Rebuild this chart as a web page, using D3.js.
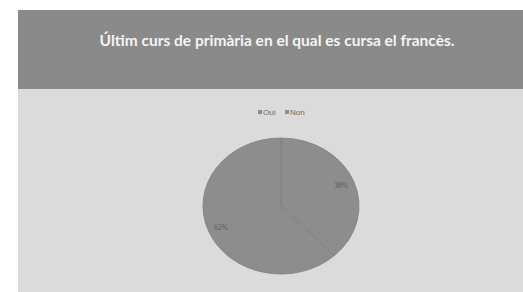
<!DOCTYPE html>
<html>
<head>
<meta charset="utf-8">
<script src="https://cdn.jsdelivr.net/npm/d3@7"></script>
<style>
  body { margin: 0; background: #fff; }
  svg { display: block; }
</style>
</head>
<body>
<div id="chart"></div>
<script>
const svgWidth = 523;
const svgHeight = 292;

// data
const categories = ['Oui', 'Non'];
const values = [38, 62];
const labels = ['38%', '62%'];
const title = 'Últim curs de primària en el qual es cursa el francès.';

const svg = d3.select('#chart')
  .append('svg')
    .attr('width', svgWidth)
    .attr('height', svgHeight);

// panel background
svg.append('rect')
  .attr('x', 18).attr('y', 89)
  .attr('width', svgWidth - 18).attr('height', svgHeight - 89)
  .attr('fill', '#dbdbdb');

// header band
svg.append('rect')
  .attr('x', 18).attr('y', 10)
  .attr('width', svgWidth - 18).attr('height', 79)
  .attr('fill', '#8a8a8a');

svg.append('text')
  .attr('x', 277)
  .attr('y', 46)
  .attr('text-anchor', 'middle')
  .attr('fill', '#f4f4f4')
  .style('font-family', 'Lato, "Open Sans", sans-serif')
  .style('font-weight', 'bold')
  .style('font-size', '15.5px')
  .text(title);

// legend
const legend = svg.append('g')
  .attr('transform', 'translate(258, 115)');

const legendX = d3.scalePoint()
  .domain(categories)
  .range([0, 27]);

const legendItem = legend.selectAll('g').data(categories)
  .enter().append('g')
    .attr('transform', d => `translate(${legendX(d)}, 0)`);

legendItem.append('rect')
  .attr('x', 0).attr('y', -5)
  .attr('width', 4).attr('height', 4)
  .attr('fill', '#8c8c8c');

legendItem.append('text')
  .attr('x', 5).attr('y', 0)
  .attr('fill', '#6a6a6a')
  .style('font-family', '"Liberation Sans", Arial, sans-serif')
  .style('font-size', '8px')
  .text(d => d);

// pie
const cx = 281, cy = 206;
const radius = 68;
const sx = 1.147;

const pie = d3.pie().sort(null).value(d => d);
const arcs = pie(values);

const arc = d3.arc().innerRadius(0).outerRadius(radius);
const labelArc = d3.arc().innerRadius(radius * 0.83).outerRadius(radius * 0.83);

svg.append('g')
  .attr('transform', `translate(${cx}, ${cy}) scale(${sx}, 1)`)
  .selectAll('path').data(arcs)
  .enter().append('path')
    .attr('d', arc)
    .attr('fill', '#8d8d8d')
    .attr('stroke', '#808080')
    .attr('stroke-width', 0.8);

svg.append('g')
  .attr('transform', `translate(${cx}, ${cy})`)
  .selectAll('text').data(arcs)
  .enter().append('text')
    .attr('x', d => labelArc.centroid(d)[0] * sx)
    .attr('y', d => labelArc.centroid(d)[1] + 3)
    .attr('text-anchor', 'middle')
    .attr('fill', '#5a5a5a')
    .style('font-family', '"Liberation Serif", serif')
    .style('font-size', '7.5px')
    .text((d, i) => labels[i]);
</script>
</body>
</html>
